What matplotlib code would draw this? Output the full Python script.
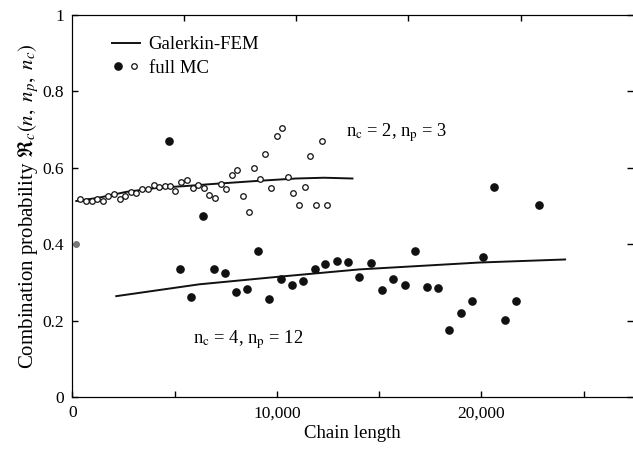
import matplotlib
matplotlib.use('Agg')
import matplotlib.pyplot as plt
from matplotlib.legend_handler import HandlerTuple

plt.rcParams['font.family'] = ['Liberation Serif', 'DejaVu Serif']
plt.rcParams['mathtext.fontset'] = 'stix'
plt.rcParams['font.size'] = 12

# Galerkin-FEM curves
fem2_x = [196, 1320, 2640, 4250, 5480, 6700, 9140, 10950, 12320, 13700]
fem2_y = [0.513, 0.522, 0.537, 0.548, 0.552, 0.557, 0.566, 0.572, 0.574, 0.572]
fem4_x = [2150, 6210, 9930, 14030, 19900, 24100]
fem4_y = [0.264, 0.295, 0.314, 0.334, 0.352, 0.360]

# full MC, n_c = 2, n_p = 3 (open circles)
mc2_x = [376, 669, 946, 1206, 1483, 1760, 2038, 2315, 2592, 2852, 3130, 3407,
         3684, 3978, 4238, 4515, 4776, 5036, 5314, 5607, 5884, 6145, 6422, 6700,
         6977, 7253, 7531, 7790, 8068, 8347, 8621, 8900, 9160, 9438, 9715, 9990,
         10254, 10547, 10807, 11085, 11360, 11638, 11916, 12191, 12469]
mc2_y = [0.518, 0.512, 0.514, 0.518, 0.512, 0.525, 0.532, 0.519, 0.526, 0.537, 0.534, 0.544,
         0.545, 0.554, 0.549, 0.553, 0.552, 0.540, 0.562, 0.567, 0.547, 0.556, 0.547, 0.528,
         0.522, 0.558, 0.544, 0.582, 0.593, 0.527, 0.485, 0.600, 0.571, 0.635, 0.546, 0.682,
         0.704, 0.576, 0.533, 0.503, 0.550, 0.630, 0.503, 0.671, 0.503]

# full MC, n_c = 4, n_p = 12 (filled dots)
mc4_x = [4710, 5281, 5819, 6373, 6911, 7449, 8003, 8541, 9095, 9633, 10188, 10741,
         11296, 11850, 12372, 12925, 13480, 14034, 14587, 15144, 15697, 16249, 16773,
         17325, 17863, 18435, 18988, 19526, 20083, 20621, 21159, 21712, 22802]
mc4_y = [0.669, 0.335, 0.263, 0.474, 0.335, 0.324, 0.275, 0.282, 0.383, 0.257, 0.309, 0.292,
         0.303, 0.335, 0.349, 0.355, 0.353, 0.313, 0.350, 0.280, 0.309, 0.293, 0.383,
         0.287, 0.285, 0.175, 0.220, 0.252, 0.366, 0.549, 0.202, 0.252, 0.503]

# stray grey point on the axis
odd_x = [180]
odd_y = [0.40]

fig = plt.figure(figsize=(6.33, 4.51), dpi=100)
ax = fig.add_axes([72.3 / 633, 54 / 451, 1 - 72.3 / 633, 382 / 451])

line, = ax.plot(fem2_x, fem2_y, color='#111111', lw=1.4)
ax.plot(fem4_x, fem4_y, color='#111111', lw=1.4)
open_pts, = ax.plot(mc2_x, mc2_y, 'o', ms=4.0, mfc='white', mec='#111111', mew=0.9, ls='none')
fill_pts, = ax.plot(mc4_x, mc4_y, 'o', ms=5.2, color='#111111', ls='none')
ax.plot(odd_x, odd_y, 'o', ms=4, color='#777777', clip_on=False)

ax.set_xlim(0, 27420)
ax.set_ylim(0, 1)
ax.set_xticks([0, 5000, 10000, 15000, 20000, 25000])
ax.set_xticklabels(['0', '', '10,000', '', '20,000', ''])
ax.set_yticks([0, 0.2, 0.4, 0.6, 0.8, 1.0])
ax.set_yticklabels(['0', '0.2', '0.4', '0.6', '0.8', '1'])
ax.tick_params(direction='in', length=4, width=1, labelsize=12.5, right=True, pad=6)
ax.spines['right'].set_visible(False)

# top axis has its own tick spacing
top = ax.twiny()
top.set_xlim(ax.get_xlim())
top.set_xticks([5480, 10960, 16440, 21920])
top.set_xticklabels([])
top.tick_params(direction='in', length=4, width=1)
top.spines['right'].set_visible(False)

ax.set_xlabel('Chain length', fontsize=13.5, labelpad=3)
ax.set_ylabel(r'Combination probability $\Re_c(n,\ n_p,\ n_c)$', fontsize=15, labelpad=1)

ax.text(13384, 0.681, r'n$_\mathrm{c}$ = 2, n$_\mathrm{p}$ = 3', fontsize=13.3, va='baseline')
ax.text(5925, 0.139, r'n$_\mathrm{c}$ = 4, n$_\mathrm{p}$ = 12', fontsize=13.3, va='baseline')

ax.legend([line, (fill_pts, open_pts)], ['Galerkin-FEM', 'full MC'],
          handler_map={tuple: HandlerTuple(ndivide=None, pad=0.3)},
          loc='upper left', bbox_to_anchor=(0.0708, 0.945), frameon=False,
          borderaxespad=0, borderpad=0, handlelength=1.5, handletextpad=0.45,
          labelspacing=0.35, fontsize=13.5)

fig.savefig('out.png', dpi=100)
